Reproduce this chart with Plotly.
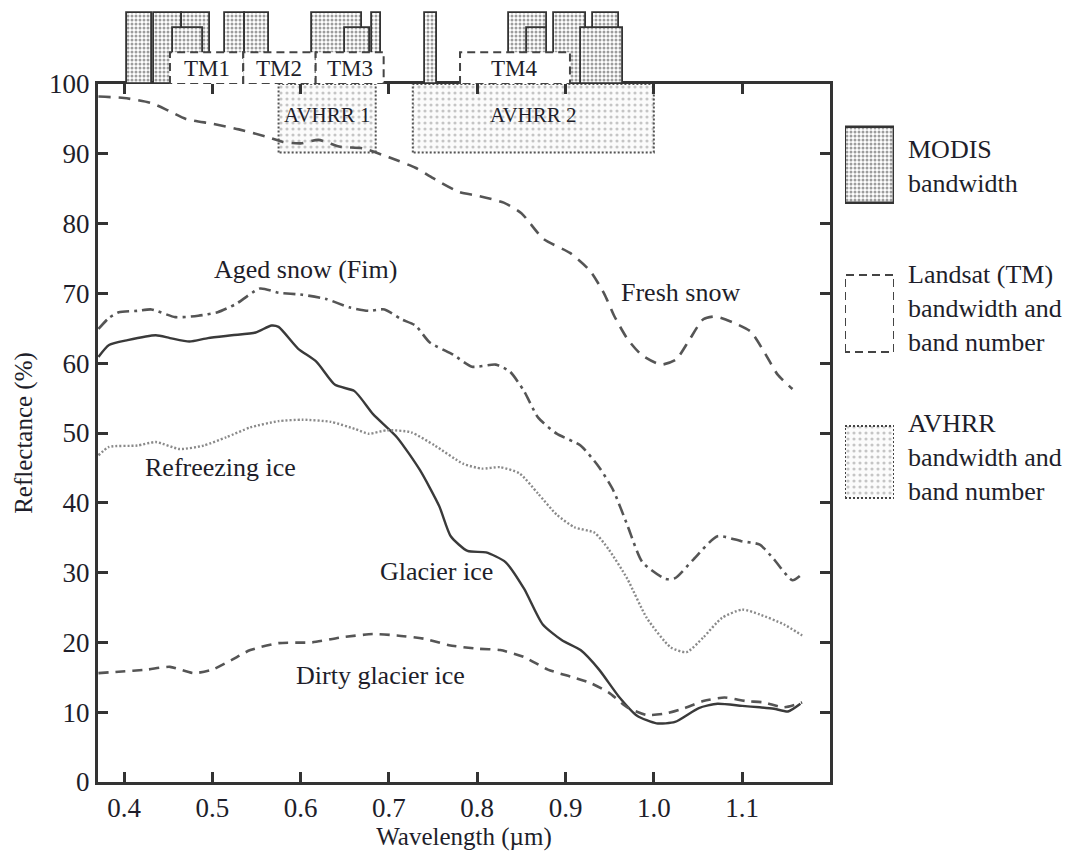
import plotly.graph_objects as go

# ---------------- data ----------------
# Spectral reflectance curves (wavelength in µm, reflectance in %)
fresh_wl = [0.371, 0.40, 0.43, 0.45, 0.47, 0.50, 0.53, 0.56, 0.58, 0.60, 0.62, 0.645, 0.67, 0.70,
            0.73, 0.75, 0.78, 0.80, 0.83, 0.85, 0.875, 0.905, 0.928, 0.944, 0.955, 0.97, 0.986,
            1.008, 1.025, 1.04, 1.056, 1.07, 1.094, 1.11, 1.125, 1.14, 1.157]
fresh = [98.2, 98.0, 97.3, 96.2, 95.0, 94.3, 93.5, 92.5, 91.7, 91.5, 92.0, 91.0, 90.8, 89.5,
         88.0, 86.5, 84.5, 84.0, 83.0, 81.5, 77.8, 75.8, 73.2, 69.9, 66.8, 63.5, 61.2,
         59.8, 60.5, 63.3, 66.3, 66.7, 65.6, 64.5, 61.6, 58.4, 56.3]

aged_wl = [0.371, 0.383, 0.394, 0.415, 0.431, 0.458, 0.484, 0.506, 0.527, 0.554, 0.575, 0.602,
           0.629, 0.655, 0.677, 0.695, 0.714, 0.730, 0.746, 0.773, 0.794, 0.821, 0.837, 0.853,
           0.869, 0.890, 0.917, 0.938, 0.954, 0.970, 0.987, 1.013, 1.024, 1.045, 1.072, 1.099,
           1.12, 1.136, 1.157, 1.168]
aged = [64.9, 66.5, 67.3, 67.5, 67.7, 66.6, 66.8, 67.3, 68.5, 70.7, 70.1, 69.8,
        69.2, 68.0, 67.5, 67.7, 66.3, 65.4, 63.0, 61.2, 59.5, 59.8, 58.8, 56.0,
        52.2, 49.9, 48.2, 45.1, 41.8, 36.8, 31.5, 29.1, 29.2, 31.9, 35.2, 34.5,
        34.0, 31.9, 28.9, 29.8]

glacier_wl = [0.371, 0.383, 0.404, 0.436, 0.452, 0.474, 0.495, 0.522, 0.549, 0.567, 0.575, 0.597,
              0.618, 0.639, 0.661, 0.682, 0.709, 0.735, 0.757, 0.770, 0.789, 0.810, 0.832, 0.853,
              0.874, 0.896, 0.917, 0.938, 0.960, 0.981, 1.003, 1.024, 1.051, 1.072, 1.100, 1.120,
              1.136, 1.152, 1.166]
glacier = [60.9, 62.6, 63.3, 64.0, 63.6, 63.1, 63.6, 64.0, 64.4, 65.4, 65.2, 62.1,
           60.2, 56.9, 56.0, 52.7, 49.4, 44.7, 39.5, 35.2, 33.1, 32.9, 31.5, 27.7,
           22.6, 20.3, 18.9, 16.1, 12.3, 9.5, 8.4, 8.6, 10.6, 11.2, 10.9, 10.7,
           10.5, 10.1, 11.2]

refr_wl = [0.371, 0.383, 0.415, 0.436, 0.463, 0.490, 0.516, 0.543, 0.575, 0.602, 0.634, 0.661,
           0.677, 0.698, 0.725, 0.752, 0.784, 0.805, 0.826, 0.848, 0.869, 0.890, 0.910, 0.933,
           0.949, 0.970, 0.992, 1.019, 1.037, 1.056, 1.077, 1.100, 1.120, 1.147, 1.168]
refr = [46.8, 48.0, 48.2, 48.7, 47.7, 48.2, 49.4, 50.8, 51.7, 51.9, 51.6, 50.6,
        49.9, 50.4, 50.1, 48.2, 45.6, 44.9, 45.1, 44.2, 41.3, 38.3, 36.5, 35.7,
        33.3, 29.1, 23.5, 19.3, 18.6, 20.7, 23.5, 24.7, 24.0, 22.6, 21.0]

dirty_wl = [0.371, 0.394, 0.426, 0.452, 0.479, 0.500, 0.522, 0.543, 0.575, 0.613, 0.645, 0.682,
            0.709, 0.741, 0.768, 0.800, 0.826, 0.853, 0.880, 0.906, 0.928, 0.949, 0.970, 0.992,
            1.013, 1.035, 1.056, 1.080, 1.104, 1.125, 1.147, 1.168]
dirty = [15.6, 15.8, 16.1, 16.5, 15.6, 16.1, 17.5, 18.9, 19.9, 20.0, 20.7, 21.2,
         21.0, 20.5, 19.6, 19.1, 18.9, 17.9, 16.1, 15.1, 14.2, 12.8, 10.7, 9.6,
         9.8, 10.6, 11.6, 12.1, 11.6, 11.4, 10.7, 11.4]

# MODIS bands (µm) and whether drawn tall (True) or short (False)
modis_lo = [0.403, 0.434, 0.466, 0.514, 0.537, 0.613, 0.681, 0.741, 0.836, 0.887, 0.931,
            0.455, 0.650, 0.856, 0.918]
modis_hi = [0.432, 0.466, 0.497, 0.537, 0.564, 0.669, 0.691, 0.754, 0.879, 0.923, 0.961,
            0.489, 0.679, 0.879, 0.965]
modis_tall = [True] * 11 + [False] * 4

# Landsat TM bands
tm_names = ["TM1", "TM2", "TM3", "TM4"]
tm_lo = [0.452, 0.535, 0.617, 0.7805]
tm_hi = [0.535, 0.617, 0.694, 0.905]

# AVHRR bands
avhrr_names = ["AVHRR 1", "AVHRR 2"]
avhrr_lo = [0.575, 0.727]
avhrr_hi = [0.685, 1.000]

# tick labels
x_ticks = [0.4, 0.5, 0.6, 0.7, 0.8, 0.9, 1.0, 1.1]
y_ticks = [0, 10, 20, 30, 40, 50, 60, 70, 80, 90, 100]

# curve labels
curve_labels = ["Aged snow (Fim)", "Fresh snow", "Refreezing ice", "Glacier ice", "Dirty glacier ice"]
label_x = [0.606, 1.03, 0.509, 0.754, 0.69]
label_y = [73.4, 70.2, 45.1, 30.2, 15.2]

# ---------------- layout geometry ----------------
W, H = 1070, 855
L, R, T, B = 98, 10, 10, 73
PW, PH = W - L - R, H - T - B
FRAME_RIGHT, FRAME_TOP = 830, 84
x_end = (FRAME_RIGHT - L) / PW
y_end = (H - B - FRAME_TOP) / PH

FONT = "Liberation Serif"
TXT = "#1e1e2a"
FS = 26

TALL, SHORT, TMH = 0.955, 0.76, 0.43
AV_BOTTOM = 90.2

fig = go.Figure()

modis_pattern = dict(shape=".", fgcolor="#3c3c3c", bgcolor="white", size=4, solidity=0.45)
for flag in (True, False):
    lo = [a for a, t in zip(modis_lo, modis_tall) if t == flag]
    hi = [b for b, t in zip(modis_hi, modis_tall) if t == flag]
    fig.add_trace(go.Bar(
        x=[(a + b) / 2 for a, b in zip(lo, hi)], width=[b - a for a, b in zip(lo, hi)],
        y=[TALL if flag else SHORT] * len(lo), base=0,
        xaxis="x", yaxis="y2", showlegend=False, hoverinfo="skip",
        marker=dict(color="white", line=dict(color="#333333", width=1.8), pattern=modis_pattern),
    ))

for name, a, b in zip(tm_names, tm_lo, tm_hi):
    fig.add_trace(go.Scatter(
        x=[a, a, b, b, a], y=[0, TMH, TMH, 0, 0], mode="lines", fill="toself",
        fillcolor="white", line=dict(color="#444444", width=2, dash="8px,5px"),
        xaxis="x", yaxis="y2", showlegend=False, hoverinfo="skip",
    ))

# AVHRR boxes
avhrr_pattern = dict(shape=".", fgcolor="#8f8f8f", bgcolor="#fbfbfb", size=6, solidity=0.22)
fig.add_trace(go.Bar(
    x=[(a + b) / 2 for a, b in zip(avhrr_lo, avhrr_hi)], width=[b - a for a, b in zip(avhrr_lo, avhrr_hi)],
    y=[100 - AV_BOTTOM] * 2, base=AV_BOTTOM, showlegend=False, hoverinfo="skip",
    marker=dict(color="#fbfbfb", line=dict(width=0), pattern=avhrr_pattern),
))
for a, b in zip(avhrr_lo, avhrr_hi):
    fig.add_trace(go.Scatter(
        x=[a, a, b, b, a], y=[AV_BOTTOM, 100, 100, AV_BOTTOM, AV_BOTTOM], mode="lines",
        line=dict(color="#555555", width=2, dash="2px,2px"), showlegend=False, hoverinfo="skip",
    ))

# Curves
curves = [
    (fresh_wl, fresh, "Fresh snow", dict(color="#555555", width=2.6, dash="12px,8px")),
    (aged_wl, aged, "Aged snow (Fim)", dict(color="#555555", width=2.6, dash="12px,5px,3px,5px")),
    (glacier_wl, glacier, "Glacier ice", dict(color="#3a3a3a", width=2.4)),
    (refr_wl, refr, "Refreezing ice", dict(color="#8a8a8a", width=2.4, dash="2px,2px")),
    (dirty_wl, dirty, "Dirty glacier ice", dict(color="#555555", width=2.6, dash="10px,7px")),
]
for xs, ys, nm, ln in curves:
    ln = dict(ln, shape="spline", smoothing=0.6)
    fig.add_trace(go.Scatter(x=xs, y=ys, mode="lines", name=nm, line=ln, showlegend=False))

# ---------------- legend (custom, right side) ----------------
leg_x0, leg_x1 = 845, 894
boxes = {"modis": (127, 203), "tm": (275, 352), "avhrr": (426, 498)}
def py(px):
    return H - B - px  # value in y3 units (pixels from bottom of plot area)

fig.add_trace(go.Bar(
    x=[0.5], width=[1], base=[py(boxes["modis"][1])],
    y=[boxes["modis"][1] - boxes["modis"][0]], xaxis="x3", yaxis="y3",
    showlegend=False, hoverinfo="skip",
    marker=dict(color="white", line=dict(color="#333333", width=2.4), pattern=modis_pattern),
))
fig.add_trace(go.Bar(
    x=[0.5], width=[1], base=[py(boxes["avhrr"][1])],
    y=[boxes["avhrr"][1] - boxes["avhrr"][0]], xaxis="x3", yaxis="y3",
    showlegend=False, hoverinfo="skip",
    marker=dict(color="#fbfbfb", line=dict(width=0), pattern=avhrr_pattern),
))
for key, dash in (("tm", "8px,5px"), ("avhrr", "2px,2px")):
    t0, t1 = boxes[key]
    fig.add_trace(go.Scatter(
        x=[0, 0, 1, 1, 0], y=[py(t1), py(t0), py(t0), py(t1), py(t1)], mode="lines",
        line=dict(color="#444444", width=2, dash=dash), xaxis="x3", yaxis="y3",
        showlegend=False, hoverinfo="skip",
    ))

annotations = []
for txt, cy in (("MODIS<br>bandwidth", 166.5), ("Landsat (TM)<br>bandwidth and<br>band number", 308.5),
                ("AVHRR<br>bandwidth and<br>band number", 457.5)):
    annotations.append(dict(
        x=(906 - L) / PW, y=(H - B - cy) / PH, xref="paper", yref="paper", text=txt,
        showarrow=False, xanchor="left", yanchor="middle", align="left",
        font=dict(family=FONT, size=FS, color=TXT),
    ))

for name, a, b in zip(tm_names, tm_lo, tm_hi):
    annotations.append(dict(x=(a + b) / 2, y=0.21, xref="x", yref="y2", text=name, showarrow=False,
                            font=dict(family=FONT, size=23, color=TXT)))
for name, a, b in zip(avhrr_names, avhrr_lo, avhrr_hi):
    annotations.append(dict(x=(a + b) / 2, y=95.5, xref="x", yref="y", text=name, showarrow=False,
                            font=dict(family=FONT, size=21, color=TXT)))
for txt, lx, ly in zip(curve_labels, label_x, label_y):
    annotations.append(dict(x=lx, y=ly, xref="x", yref="y", text=txt, showarrow=False,
                            font=dict(family=FONT, size=FS, color=TXT)))

axis_common = dict(showline=True, linecolor="#333333", linewidth=3, mirror="ticks",
                   ticks="inside", ticklen=10, tickwidth=2.5, tickcolor="#333333",
                   showgrid=False, zeroline=False, automargin=False,
                   tickfont=dict(family=FONT, size=27, color=TXT))

fig.update_layout(
    width=W, height=H, margin=dict(l=L, r=R, t=T, b=B, autoexpand=False),
    paper_bgcolor="white", plot_bgcolor="white",
    barmode="overlay", bargap=0,
    showlegend=False,
    xaxis=dict(axis_common, domain=[0, x_end], range=[0.3705, 1.1995], tickvals=x_ticks,
               ticktext=[f"{v:.1f}" for v in x_ticks], anchor="y",
               title=dict(text="Wavelength (µm)", font=dict(family=FONT, size=25, color=TXT), standoff=4)),
    yaxis=dict(axis_common, domain=[0, y_end], range=[0, 100], tickvals=y_ticks, anchor="x",
               title=dict(text="Reflectance (%)", font=dict(family=FONT, size=25, color=TXT), standoff=10)),
    yaxis2=dict(domain=[y_end, 1], range=[0, 1], anchor="x", visible=False, automargin=False),
    xaxis3=dict(domain=[(leg_x0 - L) / PW, (leg_x1 - L) / PW], range=[0, 1], anchor="y3",
                visible=False, automargin=False),
    yaxis3=dict(domain=[0, 1], range=[0, PH], anchor="x3", visible=False, automargin=False),
    annotations=annotations,
)

fig.write_html("out.html")
